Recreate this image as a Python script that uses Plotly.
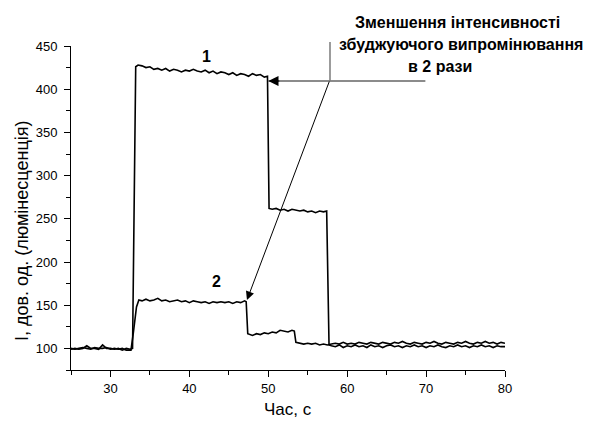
import plotly.graph_objects as go

# ---- data ----
time1 = [25, 25.5, 26, 26.5, 27, 27.5, 28, 28.5, 29, 29.5, 30, 30.5, 31, 31.5, 32, 32.5, 32.8,
         33.2, 33.5, 34, 34.5, 35, 35.5, 36, 36.5, 37, 37.5, 38, 38.5, 39, 39.5, 40, 40.5, 41, 41.5,
         42, 42.5, 43, 43.5, 44, 44.5, 45, 45.5, 46, 46.5, 47, 47.5, 48, 48.5, 49, 49.5, 49.9,
         50.1, 50.5, 51, 51.5, 52, 52.5, 53, 53.5, 54, 54.5, 55, 55.5, 56, 56.5, 57, 57.4,
         57.7, 58, 58.5, 59, 59.5, 60, 60.5, 61, 61.5, 62, 62.5, 63, 63.5, 64, 64.5, 65, 65.5,
         66, 66.5, 67, 67.5, 68, 68.5, 69, 69.5, 70, 70.5, 71, 71.5, 72, 72.5, 73, 73.5, 74,
         74.5, 75, 75.5, 76, 76.5, 77, 77.5, 78, 78.5, 79, 79.5, 80]
lum1 = [99, 100, 99, 100, 103, 100, 100, 99, 104, 100, 100, 99, 100, 98, 100, 99, 100,
        426, 428, 427, 425, 426, 423, 424, 422, 424, 421, 423, 422, 420, 422, 421, 423, 421, 420,
        422, 419, 421, 418, 420, 419, 417, 419, 416, 418, 417, 415, 418, 416, 417, 414, 415,
        262, 261, 262, 260, 261, 259, 261, 260, 259, 260, 258, 259, 257, 259, 258, 259,
        104, 103, 102, 104, 101, 103, 102, 104, 102, 103, 101, 104, 102, 103, 101, 103, 104,
        102, 103, 101, 103, 102, 104, 102, 103, 101, 103, 102, 104, 102, 101, 103, 102, 104,
        102, 103, 101, 103, 102, 104, 102, 103, 101, 103, 102, 102]

time2 = [25, 25.5, 26, 26.5, 27, 27.5, 28, 28.5, 29, 29.5, 30, 30.5, 31, 31.5, 32, 32.6,
         32.9, 33.1, 33.3, 33.6, 34, 34.5, 35, 35.5, 36, 36.5, 37, 37.5, 38, 38.5, 39, 39.5,
         40, 40.5, 41, 41.5, 42, 42.5, 43, 43.5, 44, 44.5, 45, 45.5, 46, 46.5, 47, 47.2,
         47.4, 47.8, 48, 48.5, 49, 49.5, 50, 50.5, 51, 51.5, 52, 52.5, 53, 53.3,
         53.5, 54, 54.5, 55, 55.5, 56, 56.5, 57, 57.5, 58, 58.5, 59, 59.5, 60, 60.5, 61, 61.5,
         62, 62.5, 63, 63.5, 64, 64.5, 65, 65.5, 66, 66.5, 67, 67.5, 68, 68.5, 69, 69.5, 70,
         70.5, 71, 71.5, 72, 72.5, 73, 73.5, 74, 74.5, 75, 75.5, 76, 76.5, 77, 77.5, 78, 78.5,
         79, 79.5, 80]
lum2 = [100, 99, 100, 101, 100, 99, 101, 100, 100, 101, 99, 100, 99, 100, 98, 98,
        118, 135, 148, 156, 155, 157, 155, 156, 158, 155, 156, 154, 155, 156, 154, 155,
        153, 155, 154, 153, 154, 152, 154, 153, 154, 153, 154, 152, 154, 153, 155, 154,
        117, 116, 115, 117, 116, 118, 117, 119, 118, 121, 120, 119, 121, 120,
        107, 106, 105, 106, 105, 106, 104, 105, 104, 105, 106, 105, 107, 105, 106, 105, 107,
        106, 105, 107, 106, 105, 107, 106, 105, 107, 106, 108, 106, 105, 107, 106, 105, 107,
        106, 108, 106, 105, 107, 106, 105, 107, 106, 108, 106, 105, 107, 106, 108, 106, 107,
        105, 107, 106]

x_ticks = [30, 40, 50, 60, 70, 80]
y_ticks = [100, 150, 200, 250, 300, 350, 400, 450]

FONT = "Arial, Liberation Sans, sans-serif"

fig = go.Figure()
fig.add_trace(go.Scatter(x=time1, y=lum1, mode="lines",
                         line=dict(color="black", width=1.6), showlegend=False))
fig.add_trace(go.Scatter(x=time2, y=lum2, mode="lines",
                         line=dict(color="black", width=1.6), showlegend=False))

axis_common = dict(showline=True, linecolor="black", linewidth=1, showgrid=False,
                   zeroline=False, ticks="outside", ticklen=6, tickcolor="black",
                   automargin=False,
                   tickfont=dict(family=FONT, size=13, color="black"))

fig.update_xaxes(range=[25, 80], tickvals=x_ticks, ticklabelstandoff=0,
                 minor=dict(ticks="outside", ticklen=4, dtick=5, tick0=25, tickcolor="black"),
                 **axis_common)
fig.update_yaxes(range=[75, 450], tickvals=y_ticks, ticklabelstandoff=4,
                 minor=dict(ticks="outside", ticklen=4, dtick=25, tick0=75, tickcolor="black"),
                 **axis_common)

W, H = 591, 421
L, R, T, B = 71, 86, 46, 51

def px(xp):
    return (xp - L) / (W - L - R)

def py(yp):
    return (H - B - yp) / (H - T - B)

annotations = []
# axis titles placed as annotations
annotations.append(dict(text="I, дов. од. (люмінесценція)", xref="paper", yref="paper",
                        x=px(22), y=py(231), showarrow=False, textangle=-90,
                        font=dict(family=FONT, size=18, color="black"),
                        xanchor="center", yanchor="middle"))
annotations.append(dict(text="Час, с", xref="paper", yref="paper",
                        x=px(288), y=py(409), showarrow=False,
                        font=dict(family=FONT, size=17, color="black"),
                        xanchor="center", yanchor="middle"))
# curve labels
annotations.append(dict(text="<b>1</b>", x=42.2, y=438, showarrow=False,
                        font=dict(family=FONT, size=16, color="black")))
annotations.append(dict(text="<b>2</b>", x=43.5, y=177, showarrow=False,
                        font=dict(family=FONT, size=16, color="black")))
# note text
for txt, xx, yy in [("Зменшення інтенсивності", 457, 23),
                    ("збуджуючого випромінювання", 460.5, 45),
                    ("в 2 рази", 440, 67)]:
    annotations.append(dict(text="<b>" + txt + "</b>", xref="paper", yref="paper",
                            x=px(xx), y=py(yy), showarrow=False,
                            font=dict(family=FONT, size=16, color="black"),
                            xanchor="center", yanchor="middle"))
# horizontal arrow line (gray) to curve 1
annotations.append(dict(text="", x=50.0, y=409.5, ax=70.1, ay=409.5, axref="x", ayref="y",
                        showarrow=True, arrowhead=0, arrowwidth=1.3, arrowcolor="#666666",
                        standoff=0))
annotations.append(dict(text="", x=50.0, y=409.5, ax=51.6, ay=409.5, axref="x", ayref="y",
                        showarrow=True, arrowhead=2, arrowsize=1.7, arrowwidth=1.2,
                        arrowcolor="black", standoff=0))
# diagonal arrow to curve 2
annotations.append(dict(text="", x=47.3, y=156, ax=57.8, ay=410.6, axref="x", ayref="y",
                        showarrow=True, arrowhead=2, arrowsize=1.7, arrowwidth=1,
                        arrowcolor="black", standoff=0))

shapes = [dict(type="line", xref="paper", yref="paper", x0=px(330), x1=px(330),
               y0=py(42), y1=py(80.5), line=dict(color="#666666", width=1.3))]

fig.update_layout(width=W, height=H, margin=dict(l=L, r=R, t=T, b=B),
                  paper_bgcolor="white", plot_bgcolor="white",
                  annotations=annotations, shapes=shapes,
                  font=dict(family=FONT, color="black"))

fig.write_html("out.html")
